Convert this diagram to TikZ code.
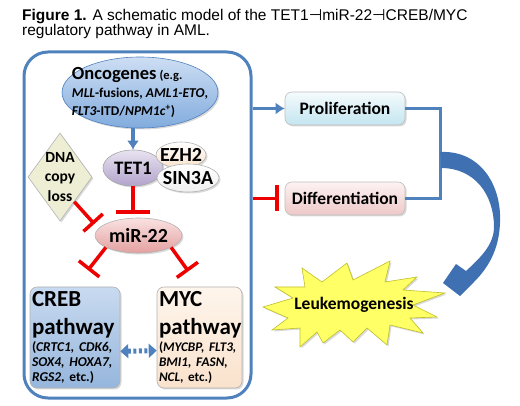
\documentclass[tikz,border=0pt]{standalone}
\usepackage{fontspec}
\setmainfont{Carlito}
\newfontfamily\titlefont{Liberation Sans}
\newfontfamily\dejavu{DejaVu Sans}
\usetikzlibrary{arrows.meta, shapes.geometric, shadows, calc}

\definecolor{pathblue}{RGB}{79,129,189}
\definecolor{bendblue}{RGB}{62,112,178}
\definecolor{inhibred}{RGB}{238,0,0}
\definecolor{oncoTop}{RGB}{205,222,243}
\definecolor{oncoBot}{RGB}{130,172,222}
\definecolor{tetTop}{RGB}{232,227,240}
\definecolor{tetBot}{RGB}{178,163,204}
\definecolor{mirTop}{RGB}{250,226,226}
\definecolor{mirBot}{RGB}{228,160,160}
\definecolor{dnaFill}{RGB}{238,238,212}
\definecolor{crebTop}{RGB}{200,218,240}
\definecolor{crebBot}{RGB}{150,182,220}
\definecolor{mycTop}{RGB}{254,245,236}
\definecolor{mycBot}{RGB}{250,226,204}
\definecolor{prolTop}{RGB}{244,251,253}
\definecolor{prolBot}{RGB}{196,229,240}
\definecolor{diffTop}{RGB}{253,242,242}
\definecolor{diffBot}{RGB}{238,200,200}
\definecolor{starFill}{RGB}{255,255,102}
\definecolor{starEdge}{RGB}{190,190,40}

\newcommand{\figHead}{{Latex[length=9pt, width=12pt]}}
\newcommand{\figBar}{{Bar[width=26pt]}}
\newcommand{\fsize}[2]{\fontsize{#1}{#2}\selectfont}

\begin{document}
\begin{tikzpicture}[x=1pt, y=-1pt, font=\bfseries\fsize{14}{16},
	shade/.style={drop shadow={opacity=0.3, shadow xshift=1.5pt, shadow yshift=-1.5pt}},
	blob/.style={ellipse, draw=#1, line width=0.6pt, inner sep=0pt, shade},
	pbox/.style={rectangle, rounded corners=7pt, draw=#1, line width=0.6pt, shade},
	bluelink/.style={draw=pathblue, line width=3.5pt},
	redlink/.style={draw=inhibred, line width=3.5pt, -\figBar}]
	\useasboundingbox (0,0) rectangle (520,406);

	\node[anchor=north west, inner sep=0pt, align=left, font=\titlefont\mdseries\fsize{15.5}{15.5}] (title) at (22,9)
		{\textbf{Figure 1.} A schematic model of the TET1{\dejavu ⊣}miR-22{\dejavu ⊣}CREB/MYC\\regulatory pathway in AML.};

	% cell frame
	\node[draw=pathblue, line width=3pt, rounded corners=24pt, minimum width=227, minimum height=346] (cell) at (137.5,225) {};

	% regulators
	\node[blob=pathblue, top color=oncoTop, bottom color=oncoBot, minimum width=156, minimum height=71,
		label={[align=left, font=\bfseries\fsize{13.5}{18}]center:{{\fsize{18.5}{18}Oncogenes} {\fsize{12.5}{18}(e.g.}\\\textit{MLL}-fusions, \textit{AML1-ETO},\\\textit{FLT3}-ITD/\textit{NPM1c}\textsuperscript{+})}}] (onco) at (140,92.5) {};
	\node[diamond, draw=gray!60, fill=dnaFill, line width=0.6pt, inner sep=0pt, minimum width=64, minimum height=88, shade,
		label={[align=center, font=\bfseries\fsize{15.5}{19.5}]center:DNA\\copy\\loss}] (dna) at (60,177) {};
	\node[blob=gray!70, top color=tetTop, bottom color=tetBot, minimum width=60, minimum height=36,
		label={[font=\bfseries\fsize{19}{20}]center:TET1}] (tet) at (133,168) {};
	\node[blob=gray!60, top color=white, bottom color=mycBot, minimum width=50, minimum height=26,
		label={[font=\bfseries\fsize{20}{20}]center:EZH2}] (ezh) at (181,155) {};
	\node[blob=gray!60, top color=white, bottom color=gray!12, minimum width=62, minimum height=28,
		label={[font=\bfseries\fsize{20}{20}]center:SIN3A}] (sin) at (188,178) {};
	\node[blob=gray!60, top color=mirTop, bottom color=mirBot, minimum width=87, minimum height=35,
		label={[font=\bfseries\fsize{20}{20}]center:miR-22}] (mir) at (138.5,235.5) {};

	% target pathways
	\node[pbox=gray!60, top color=crebTop, bottom color=crebBot, minimum width=90, minimum height=101, text width=86, inner sep=2pt, align=left] (creb) at (75,337.5)
		{{\fsize{23}{28}CREB\\pathway\par}\vspace{2pt}{\fsize{13.5}{15}(\textit{CRTC1, CDK6,}\\\textit{SOX4, HOXA7,}\\\textit{RGS2}, etc.)\par}};
	\node[pbox=gray!60, top color=mycTop, bottom color=mycBot, minimum width=85, minimum height=101, text width=81, inner sep=2pt, align=left] (myc) at (199.5,337.5)
		{{\fsize{23}{28}MYC\\pathway\par}\vspace{2pt}{\fsize{13.2}{15}(\textit{MYCBP, FLT3,}\\\textit{BMI1, FASN,}\\\textit{NCL}, etc.)\par}};

	% outcomes
	\node[pbox=gray!50, top color=prolTop, bottom color=prolBot, minimum width=120, minimum height=33, font=\bfseries\fsize{17.5}{18}] (prolif) at (345,108.5) {Proliferation};
	\node[pbox=gray!50, top color=diffTop, bottom color=diffBot, minimum width=120, minimum height=33, font=\bfseries\fsize{17.5}{18}] (diff) at (345,198.5) {Differentiation};

	\coordinate (burst) at (354,305);
	\draw[shift={(burst)}, draw=starEdge, fill=starFill, line width=0.6pt, shade]
		(-91,2) -- (-61,-7) -- (-79,-18) -- (-49,-18) -- (-52,-37) -- (-32,-23) -- (-7,-42) -- (-1,-25)
		-- (36,-44) -- (31,-23) -- (63,-28) -- (49,-15) -- (91,-12) -- (59,0) -- (83,12) -- (56,13)
		-- (69,28) -- (36,20) -- (33,40) -- (13,23) -- (-1,37) -- (-14,25) -- (-31,38) -- (-37,27)
		-- (-54,42) -- (-54,23) -- (-82,25) -- (-66,13) -- cycle;
	\node[font=\bfseries\fsize{17.5}{18}] (leuk) at (burst) {Leukemogenesis};

	% links
	\draw[bluelink, -\figHead] (tet.north |- onco.south) -- (tet.north);
	\draw[redlink, -{Bar[width=34pt]}, shorten >=4pt] (tet.south) -- (tet.south |- mir.north);
	\draw[redlink, shorten >=6pt] (dna.-60) -- (mir.170);
	\draw[redlink, shorten >=21pt] (mir.-160) -- (creb.north);
	\draw[redlink, shorten >=19pt] (mir.-20) -- (myc.north);
	\draw[pathblue, line width=5pt, dash pattern=on 3pt off 2.5pt, {Triangle[length=8pt, width=14pt]}-{Triangle[length=8pt, width=14pt]}] (creb.-17) -- (myc.-163);

	\draw[bluelink, -\figHead] (cell.east |- prolif.west) -- (prolif.west);
	\draw[redlink, shorten >=6pt] (cell.east |- diff.west) -- (diff.west);
	\draw[bluelink] (prolif.east) -- ++(35,0) coordinate (join) |- (diff.east);

	% bent block arrow into leukemogenesis
	\coordinate (fork) at ($(join)!0.5!(join |- diff.east)$);
	\fill[bendblue] (fork) ++(0,-1.5) .. controls (480,150) and (502,185) .. (500,223)
		.. controls (499,250) and (488,268) .. (474,282) -- (460,296) -- (443,283) -- (456,264) -- (466,271)
		.. controls (480,258) and (494,245) .. (494,227) .. controls (494,195) and (475,168) .. (441,168) -- cycle;
\end{tikzpicture}
\end{document}
